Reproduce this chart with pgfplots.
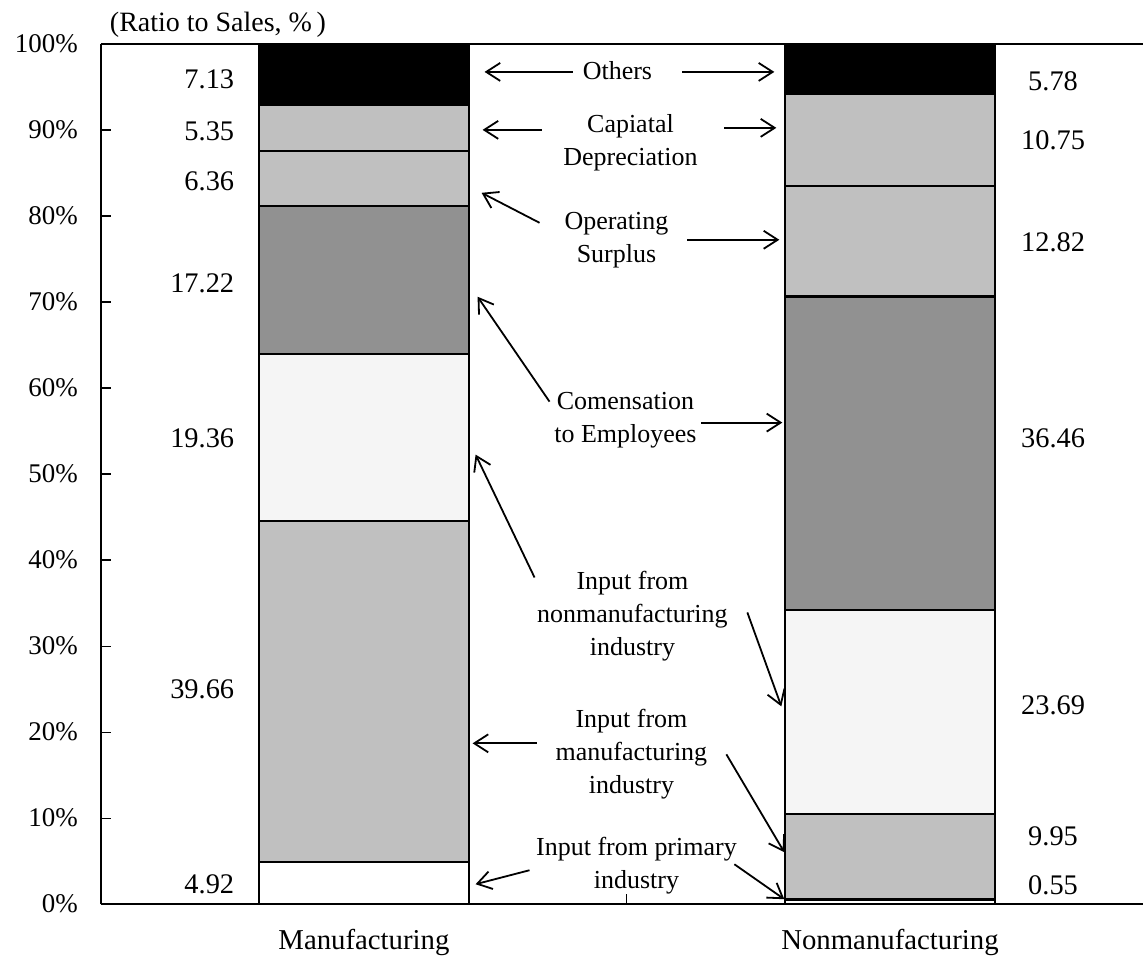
\documentclass[border=0pt]{standalone}
\usepackage{fontspec}
\setmainfont{Liberation Serif}
\usepackage{pgfplots}
\pgfplotsset{compat=1.18}
\usetikzlibrary{arrows.meta}
\definecolor{lg}{HTML}{C0C0C0}
\definecolor{vlg}{HTML}{F5F5F5}
\definecolor{dg}{HTML}{919191}
\pgfplotsset{
  base/.style={at={(0,0)}, anchor=south west, scale only axis,
    width=521.5pt, height=430.5pt, xmin=-0.5, xmax=1.481, ymin=0, ymax=100},
  seg/.style={fill=#1, draw=black, line width=1.1pt},
}
\begin{document}
\begin{tikzpicture}
\begin{scope}[shift={(-50.5pt,452.5pt)}, x=0.5pt, y=-0.5pt]
\useasboundingbox (0,0) rectangle (1144,953);
\end{scope}
\begin{axis}[base, ybar stacked, bar width=0.4, axis on top,
  axis x line*=box, axis y line*=left,
  axis line style={line width=1pt},
  xtick={0.5}, xticklabels={}, xtick pos=bottom,
  xtick style={line width=0.5pt, black},
  extra x ticks={0,1}, extra x tick labels={Manufacturing,Nonmanufacturing},
  extra x tick style={major tick length=0pt},
  xticklabel style={font=\fontsize{14.4}{16}\selectfont, yshift=-9pt},
  ytick={0,10,...,100}, ytick pos=left,
  yticklabel={\pgfmathprintnumber{\tick}\%},
  /pgf/number format/assume math mode=true,
  yticklabel style={font=\fontsize{13.5}{15}\selectfont, xshift=-8pt},
  ytick style={line width=0.6pt, black},
  tick align=inside, major tick length=5pt,
]
\addplot[seg=white] coordinates {(0,4.92) (1,0.55)};
\addplot[seg=lg] coordinates {(0,39.66) (1,9.95)};
\addplot[seg=vlg] coordinates {(0,19.36) (1,23.69)};
\addplot[seg=dg] coordinates {(0,17.22) (1,36.46)};
\addplot[seg=lg] coordinates {(0,6.36) (1,12.82)};
\addplot[seg=lg] coordinates {(0,5.35) (1,10.75)};
\addplot[seg=black] coordinates {(0,7.13) (1,5.78)};
\end{axis}
\begin{axis}[base, hide axis, clip=false]
\addplot[only marks, mark=none, point meta=explicit symbolic, nodes near coords,
  every node near coord/.append style={anchor=east, inner sep=0pt, font=\fontsize{14.2}{16}\selectfont}]
  table[meta=label] {
x y label
-0.246 95.9 7.13
-0.246 89.9 5.35
-0.246 84.0 6.36
-0.246 72.2 17.22
-0.246 54.2 19.36
-0.246 25.0 39.66
-0.246 2.3 4.92
};
\addplot[only marks, mark=none, point meta=explicit symbolic, nodes near coords,
  every node near coord/.append style={anchor=center, inner sep=0pt, font=\fontsize{14.2}{16}\selectfont}]
  table[meta=label] {
x y label
1.31 95.7 5.78
1.31 88.8 10.75
1.31 77.0 12.82
1.31 54.2 36.46
1.31 23.1 23.69
1.31 7.9 9.95
1.31 2.2 0.55
};
\end{axis}
\begin{scope}[shift={(-50.5pt,452.5pt)}, x=0.5pt, y=-0.5pt,
  every node/.style={align=center, font=\fontsize{13}{16.5}\selectfont},
  arr/.style={-{Straight Barb[length=7pt,width=9pt]}, line width=0.9pt}]
\node[anchor=base west, font=\fontsize{14}{16}\selectfont] at (103,32) {(Ratio to Sales, \%\,)};
\node at (618,71) {Others};
\draw[arr] (573,72) -- (485,72);
\draw[arr] (683,72) -- (775,72);
\node at (631,143) {Capiatal\\Depreciation};
\draw[arr] (542,130) -- (483,130);
\draw[arr] (725,128) -- (777,128);
\node at (617,240) {Operating\\Surplus};
\draw[arr] (540,223) -- (482,193);
\draw[arr] (688,240) -- (780,240);
\node at (626,421) {Comensation\\to Employees};
\draw[arr] (550,402) -- (478,297);
\draw[arr] (702,423) -- (783,423);
\node at (633,617) {Input from\\nonmanufacturing\\industry};
\draw[arr] (535,578) -- (476,455);
\draw[arr] (748,613) -- (782,707);
\node at (632,755) {Input from\\manufacturing\\industry};
\draw[arr] (537,744) -- (473,744);
\draw[arr] (727,755) -- (785,853);
\node at (637,866) {Input from primary\\industry};
\draw[arr] (530,871) -- (476,885);
\draw[arr] (735,865) -- (785,900);
\end{scope}
\end{tikzpicture}
\end{document}
